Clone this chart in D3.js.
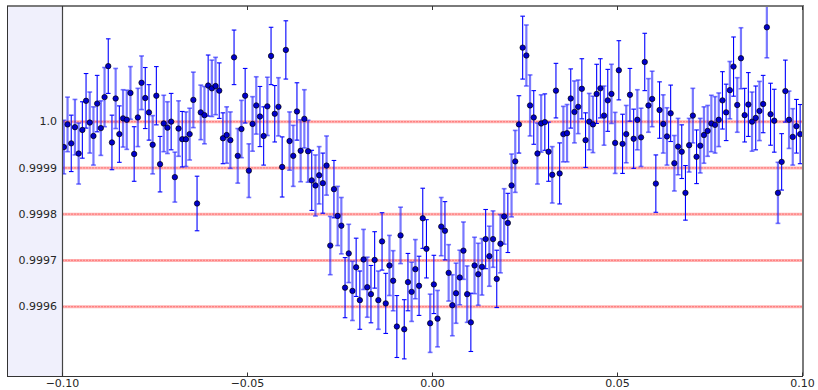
<!DOCTYPE html>
<html>
<head>
<meta charset="utf-8">
<script src="https://cdn.jsdelivr.net/npm/d3@7"></script>
<style>
  html, body { margin: 0; padding: 0; background: #fff; }
  svg { display: block; font-family: "DejaVu Sans", sans-serif; }
</style>
</head>
<body>
<svg id="chart" width="818" height="390"></svg>
<script>
// Relative flux, binned light curve: phase from -0.0995 to 0.0995 in steps of 0.001
const phaseStart = -0.0995;
const phaseStep = 0.001;

// Flux deviation from 1.0, in parts per million
const fluxPpm = [
  -55, -6, -47, -12, -69, -18, 45, -2, -31, 39,
  -14, 53, 120, -45, 50, -27, 7, 4, 62, -70,
  9, 84, 51, 20, -50, 56, -92, -4, -13, 0,
  -120, -15, -38, -38, -27, 47, -177, 20, 14, 78,
  72, 77, 67, -36, -29, -40, 139, -74, -16, 56,
  -106, -5, 35, 11, -31, 33, 142, 17, 32, -98,
  155, -42, -74, 22, -63, 6, -64, -127, -138, -116,
  -133, -95, -268, -146, -204, -225, -359, -285, -366, -315,
  -386, -298, -358, -373, -299, -386, -259, -393, -311, -344,
  -443, -246, -449, -347, -368, -319, -355, -209, -275, -436,
  -352, -426, -227, -236, -327, -397, -371, -337, -279, -373,
  -434, -311, -330, -314, -254, -291, -254, -340, -264, -205,
  -219, -138, -86, -6, 160, 143, 35, 9, -69, -4,
  -1, -65, -115, 67, -112, -27, -25, 50, 21, 32,
  71, -40, 0, -6, 60, 72, 13, 46, 60, -46,
  111, -48, -27, 58, -37, 4, -34, 129, 35, 49,
  -134, 25, -5, -32, 18, -90, -54, -65, -154, -51,
  13, -76, -52, -29, -20, -4, -7, 4, 46, 20,
  68, 119, 36, 137, 14, 37, 0, 8, 23, 38,
  204, 16, 2, -154, -87, 66, 4, -33, -10, -27
];

// 1-sigma uncertainty, parts per million
const errorPpm = [
  58, 59, 61, 60, 66, 61, 59, 66, 63, 61,
  59, 64, 59, 59, 65, 61, 62, 64, 57, 59,
  63, 58, 66, 60, 63, 63, 60, 61, 56, 61,
  54, 60, 60, 59, 56, 60, 59, 59, 62, 66,
  61, 62, 60, 55, 61, 61, 59, 59, 62, 59,
  58, 59, 62, 65, 63, 63, 62, 61, 63, 65,
  63, 63, 66, 62, 67, 63, 67, 65, 66, 62,
  65, 64, 63, 62, 64, 61, 65, 63, 64, 63,
  63, 65, 65, 62, 61, 63, 62, 65, 65, 65,
  67, 61, 64, 62, 64, 64, 64, 65, 63, 63,
  63, 61, 63, 63, 61, 66, 65, 59, 62, 61,
  63, 61, 67, 61, 64, 65, 61, 62, 63, 60,
  64, 68, 67, 62, 68, 66, 66, 58, 66, 62,
  61, 64, 61, 59, 66, 60, 62, 64, 67, 58,
  65, 59, 61, 61, 64, 64, 64, 67, 64, 66,
  64, 64, 62, 57, 64, 65, 63, 62, 58, 60,
  62, 61, 63, 62, 61, 60, 61, 58, 59, 58,
  59, 58, 59, 61, 55, 61, 61, 58, 62, 61,
  62, 64, 59, 66, 58, 69, 64, 69, 64, 62,
  66, 67, 68, 66, 61, 67, 62, 61, 58, 64
];

// Which visit each bin comes from: "d" = primary (solid bars), "l" = secondary (faint bars)
const visit = (
  "lldllddlld" + "llddldllld" + "llddlddlld" + "lldllldlld" + "llddlldlld" +
  "lllddlddld" + "dlldllldll" + "dlldlldlld" + "dllddlddll" + "dlddlldddl" +
  "dlldllllll" + "dllldlldll" + "dllddlldll" + "ddlddlldll" + "ddllddldll" +
  "ddlddlldll" + "ddlldllddl" + "ldlllllldd" + "ldllddldld" + "lddlddlldd"
).split("");

const xTicks = [-0.10, -0.05, 0.00, 0.05, 0.10];
const xTickLabels = ["\u22120.10", "\u22120.05", "0.00", "0.05", "0.10"];
const yTicks = [0.9996, 0.9997, 0.9998, 0.9999, 1.0];
const yTickLabels = ["0.9996", "0.9997", "0.9998", "0.9999", "1.0"];

const data = fluxPpm.map((p, i) => ({
  x: phaseStart + i * phaseStep,
  y: 1 + p * 1e-6,
  e: errorPpm[i] * 1e-6,
  v: visit[i]
}));

const frame = { left: 7, top: 6, right: 803, bottom: 376 };
const plotLeft = 62, plotRight = 802;

const x = d3.scaleLinear().domain([-0.1, 0.1]).range([plotLeft, plotRight]);
const y = d3.scaleLinear().domain([0.99945, 1.00025]).range([frame.bottom, frame.top]);

const svg = d3.select("#chart");

svg.append("defs").append("clipPath").attr("id", "plotClip")
  .append("rect")
  .attr("x", plotLeft).attr("y", frame.top)
  .attr("width", frame.right - plotLeft).attr("height", frame.bottom - frame.top);

// Label panel on the left
svg.append("rect")
  .attr("x", frame.left).attr("y", frame.top)
  .attr("width", plotLeft - frame.left).attr("height", frame.bottom - frame.top)
  .attr("fill", "#f0f0fc");

// Horizontal reference lines at the flux ticks
const refLines = svg.append("g").attr("class", "ref-lines");
refLines.selectAll("line.band").data(yTicks).join("line")
  .attr("class", "band")
  .attr("x1", plotLeft).attr("x2", plotRight)
  .attr("y1", d => y(d)).attr("y2", d => y(d))
  .attr("stroke", "rgba(255,0,0,0.3)").attr("stroke-width", 3);
refLines.selectAll("line.dash").data(yTicks).join("line")
  .attr("class", "dash")
  .attr("x1", plotLeft).attr("x2", plotRight)
  .attr("y1", d => y(d)).attr("y2", d => y(d))
  .attr("stroke", "rgba(255,40,40,0.35)").attr("stroke-width", 1.4)
  .attr("stroke-dasharray", "2,1");

// Error bars
const bars = svg.append("g").attr("clip-path", "url(#plotClip)");
const barStyle = {
  d: { stroke: "#0000ff", width: 1.1, cap: 2.3 },
  l: { stroke: "rgba(30,30,255,0.6)", width: 2.2, cap: 2.4 }
};
const eb = bars.selectAll("g.eb").data(data).join("g").attr("class", "eb");
eb.append("line")
  .attr("x1", d => x(d.x)).attr("x2", d => x(d.x))
  .attr("y1", d => y(d.y - d.e)).attr("y2", d => y(d.y + d.e))
  .attr("stroke", d => barStyle[d.v].stroke)
  .attr("stroke-width", d => barStyle[d.v].width);
[-1, 1].forEach(s => {
  eb.append("line")
    .attr("x1", d => x(d.x) - barStyle[d.v].cap).attr("x2", d => x(d.x) + barStyle[d.v].cap)
    .attr("y1", d => y(d.y + s * d.e)).attr("y2", d => y(d.y + s * d.e))
    .attr("stroke", d => barStyle[d.v].stroke)
    .attr("stroke-width", d => d.v === "d" ? 1.1 : 1.6);
});

// Binned flux points
svg.append("g").attr("clip-path", "url(#plotClip)")
  .selectAll("circle").data(data).join("circle")
  .attr("cx", d => x(d.x)).attr("cy", d => y(d.y))
  .attr("r", 2.7)
  .attr("fill", "#0000cc")
  .attr("stroke", "#000")
  .attr("stroke-width", 0.7);

// Frame
const fr = svg.append("g").attr("fill", "none");
fr.append("line").attr("x1", frame.left).attr("x2", frame.right + 1)
  .attr("y1", frame.top).attr("y2", frame.top)
  .attr("stroke", "#7a7a7a").attr("stroke-width", 2);
fr.append("line").attr("x1", frame.right).attr("x2", frame.right)
  .attr("y1", frame.top).attr("y2", frame.bottom)
  .attr("stroke", "#7a7a7a").attr("stroke-width", 2);
fr.append("line").attr("x1", frame.left).attr("x2", frame.right)
  .attr("y1", frame.bottom + 0.5).attr("y2", frame.bottom + 0.5)
  .attr("stroke", "#333").attr("stroke-width", 1);
fr.append("line").attr("x1", frame.left + 0.5).attr("x2", frame.left + 0.5)
  .attr("y1", frame.top).attr("y2", frame.bottom)
  .attr("stroke", "#333").attr("stroke-width", 1);
fr.append("line").attr("x1", plotLeft + 0.5).attr("x2", plotLeft + 0.5)
  .attr("y1", frame.top).attr("y2", frame.bottom)
  .attr("stroke", "#444").attr("stroke-width", 1.2);

// Bottom axis with inward ticks
const xAxis = d3.axisBottom(x)
  .tickValues(xTicks)
  .tickFormat((d, i) => xTickLabels[i])
  .tickSizeInner(-4).tickSizeOuter(0).tickPadding(3);
const gx = svg.append("g").attr("transform", `translate(0,${frame.bottom + 0.5})`).call(xAxis);
gx.select(".domain").remove();
gx.selectAll(".tick line").attr("stroke", "#333");
gx.selectAll("text").attr("font-size", 11).attr("fill", "#262626")
  .attr("font-family", "DejaVu Sans, sans-serif");

// Top axis ticks, no labels
const xAxisTop = d3.axisTop(x).tickValues(xTicks).tickFormat("")
  .tickSizeInner(-4).tickSizeOuter(0);
const gxt = svg.append("g").attr("transform", `translate(0,${frame.top})`).call(xAxisTop);
gxt.select(".domain").remove();
gxt.selectAll(".tick line").attr("stroke", "#333");

// Flux labels in the left panel
svg.append("g").selectAll("text").data(yTicks).join("text")
  .attr("x", 57).attr("y", d => y(d))
  .attr("dy", "0.35em")
  .attr("text-anchor", "end")
  .attr("font-size", 11)
  .attr("fill", "#262626")
  .text((d, i) => yTickLabels[i]);
</script>
</body>
</html>
